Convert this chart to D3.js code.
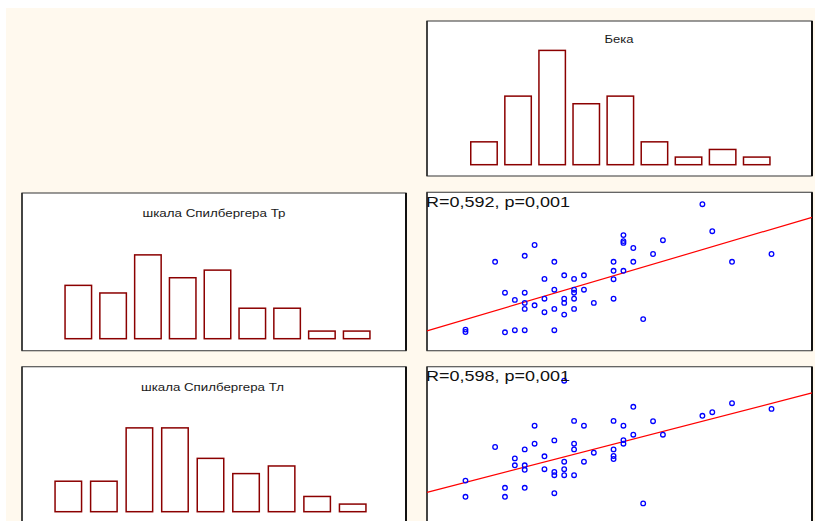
<!DOCTYPE html>
<html>
<head>
<meta charset="utf-8">
<script src="https://cdn.jsdelivr.net/npm/d3@7"></script>
<style>
  html, body { margin: 0; padding: 0; background: #ffffff; }
  svg { display: block; }
</style>
</head>
<body>
<svg id="chart" width="818" height="521"></svg>
<script>
// ---- data ----
const bins = ["1", "2", "3", "4", "5", "6", "7", "8", "9"];
const bekaCounts = [3, 9, 15, 8, 9, 3, 1, 2, 1];
const trCounts   = [7, 6, 11, 8, 9, 4, 4, 1, 1];
const tlCounts   = [4, 4, 11, 11, 7, 5, 6, 2, 1];

const histTitles = ["Бека", "шкала Спилбергера Тр", "шкала Спилбергера Тл"];

// Beck score (x) vs Spielberger trait/state score (y)
const trBeck = [11, 10, 7, 13, 19, 19, 14, 16, 12, 15, 19, 8, 10, 13, 15, 15, 16, 9, 10, 12, 14, 15, 19, 14, 17,
                11, 10, 13, 15, 12, 14, 4, 4, 8, 9, 10, 13, 28, 29, 20, 20, 20, 24, 21, 23, 35, 21, 31, 20, 22];
const trScore = [55.0, 51.4, 49.4, 49.4, 49.4, 46.4, 44.9, 44.9, 43.7, 43.7, 43.6, 39.1, 39.1, 40.1, 40.1, 39.1, 40.1,
                 36.7, 35.7, 37.1, 37.1, 37.1, 37.1, 35.7, 35.7, 34.9, 33.7, 33.7, 33.7, 32.6, 31.8, 26.8, 26.0, 25.9,
                 26.6, 26.6, 26.6, 68.6, 59.6, 58.3, 56.3, 55.7, 56.6, 54.0, 52.0, 52.0, 49.4, 49.4, 46.4, 30.3];

const tlBeck = [14, 11, 15, 16, 19, 13, 11, 15, 7, 10, 15, 17, 19, 12, 9, 19, 19, 14, 16, 9, 10, 10, 12, 14, 13,
                13, 14, 15, 4, 8, 10, 13, 4, 8, 21, 31, 29, 28, 35, 23, 20, 21, 24, 20, 20, 22];
const tlScore = [67.9, 52.9, 54.5, 52.9, 54.5, 48.0, 46.9, 46.9, 45.8, 45.0, 45.0, 43.9, 45.0, 42.7, 42.0, 42.8, 41.8,
                 40.9, 40.9, 39.7, 39.7, 38.2, 38.4, 38.4, 37.5, 36.4, 36.4, 36.4, 34.6, 32.2, 32.2, 30.4, 29.2, 29.2,
                 59.2, 60.4, 57.4, 56.2, 58.5, 54.4, 52.9, 49.9, 49.9, 48.1, 46.9, 27.0];

// least-squares fits: [intercept, slope]
const trFit = [26.3, 0.97];
const tlFit = [30.6, 0.85];
const trLabel = "R=0,592, p=0,001";
const tlLabel = "R=0,598, p=0,001";

// ---- drawing ----
const svg = d3.select("#chart");
const FONT = "'Liberation Sans', Arial, sans-serif";

svg.append("rect").attr("x", 6).attr("y", 8).attr("width", 809).attr("height", 513)
  .attr("fill", "#fff9ee");

function panelFrame(x0, y0, x1, y1) {
  const g = svg.append("g");
  g.append("rect").attr("x", x0).attr("y", y0).attr("width", x1 - x0).attr("height", y1 - y0)
    .attr("fill", "#ffffff").attr("stroke", "#555555").attr("stroke-width", 1.2);
  g.append("line").attr("x1", x0).attr("x2", x0).attr("y1", y0).attr("y2", y1)
    .attr("stroke", "#222222").attr("stroke-width", 1.4);
  g.append("line").attr("x1", x1).attr("x2", x1).attr("y1", y0).attr("y2", y1)
    .attr("stroke", "#111111").attr("stroke-width", 2);
  return g;
}

function histogram(frame, counts, title, opt) {
  const g = panelFrame(frame[0], frame[1], frame[2], frame[3]);
  const x = d3.scaleBand().domain(bins).range([opt.left, opt.right])
    .paddingInner(opt.pad).paddingOuter(0);
  const y = d3.scaleLinear().domain([0, 20]).range([opt.base, opt.base - 152.4]);
  g.selectAll("rect.bar").data(counts).join("rect")
    .attr("class", "bar")
    .attr("x", (d, i) => x(bins[i]) + 0.75)
    .attr("width", x.bandwidth() - 1.5)
    .attr("y", d => y(d))
    .attr("height", d => y(0) - y(d))
    .attr("fill", "#ffffff").attr("stroke", "#8b0000").attr("stroke-width", 1.5);
  g.append("text").attr("x", opt.tx).attr("y", opt.ty)
    .attr("text-anchor", "middle")
    .attr("font-family", FONT).attr("font-size", 11.5).attr("fill", "#1a1a1a")
    .attr("textLength", opt.tw).attr("lengthAdjust", "spacingAndGlyphs")
    .text(title);
}

histogram([427, 21, 812, 176], bekaCounts, histTitles[0],
  { left: 470, right: 770.7, pad: 0.18, base: 164.7, tx: 619, ty: 42.7, tw: 29 });
histogram([22, 193, 406, 350.7], trCounts, histTitles[1],
  { left: 64.3, right: 370.7, pad: 0.195, base: 338.7, tx: 214, ty: 216.7, tw: 143 });
histogram([22, 366.7, 406, 560], tlCounts, histTitles[2],
  { left: 54.3, right: 366.7, pad: 0.212, base: 511.7, tx: 212.5, ty: 390.7, tw: 143 });

const xBeck = d3.scaleLinear().domain([0, 39]).range([426, 811]);

function scatter(frame, xs, ys, fit, label, yRange) {
  const g = panelFrame(frame[0], frame[1], frame[2], frame[3]);
  const y = d3.scaleLinear().domain([20, 72]).range(yRange);
  const lineData = [0.1, 39.1].map(v => [v, fit[0] + fit[1] * v]);
  g.append("path")
    .attr("d", d3.line().x(d => xBeck(d[0])).y(d => y(d[1]))(lineData))
    .attr("fill", "none").attr("stroke", "#ff0000").attr("stroke-width", 1.2);
  g.selectAll("circle").data(xs).join("circle")
    .attr("cx", d => xBeck(d))
    .attr("cy", (d, i) => y(ys[i]))
    .attr("r", 2.3)
    .attr("fill", "none").attr("stroke", "#0000ff").attr("stroke-width", 1.3);
  g.append("text").attr("x", frame[0] - 1).attr("y", frame[1] + 14.4)
    .attr("font-family", FONT).attr("font-size", 14.5).attr("fill", "#111111")
    .attr("textLength", 144).attr("lengthAdjust", "spacingAndGlyphs")
    .text(label);
}

scatter([427, 192.3, 812, 350.7], trBeck, trScore, trFit, trLabel, [350, 194]);
scatter([427, 366.7, 812, 560], tlBeck, tlScore, tlFit, tlLabel, [524.4, 368.4]);
</script>
</body>
</html>
